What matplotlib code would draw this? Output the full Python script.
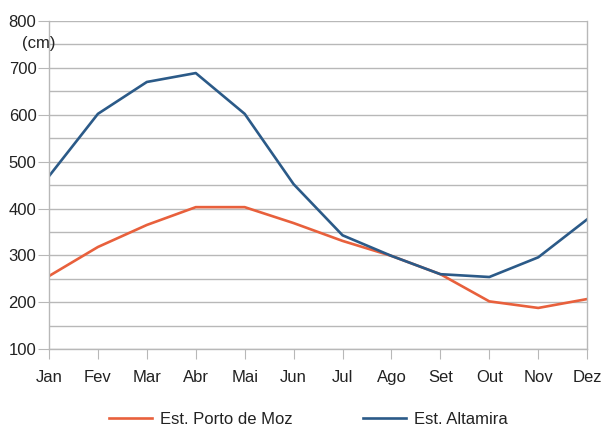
import matplotlib

matplotlib.use("Agg")
import matplotlib.pyplot as plt
from matplotlib.ticker import MultipleLocator

plt.rcParams["font.family"] = ["Liberation Sans Narrow", "Liberation Sans", "DejaVu Sans"]

months = ["Jan", "Fev", "Mar", "Abr", "Mai", "Jun",
          "Jul", "Ago", "Set", "Out", "Nov", "Dez"]
porto_de_moz = [256, 318, 365, 403, 403, 369, 331, 299, 260, 202, 188, 207]
altamira = [469, 602, 670, 689, 602, 452, 343, 299, 260, 254, 296, 377]

grid_color = "#b8b8b8"
text_color = "#222222"
font_size = 12

figure = plt.figure(figsize=(6.01, 4.29), dpi=100)
axis = figure.add_axes([0.0815, 0.186, 0.8955, 0.765])

x = range(len(months))
axis.plot(x, porto_de_moz, color="#e8603c", linewidth=1.9, label="Est. Porto de Moz")
axis.plot(x, altamira, color="#2b5a88", linewidth=1.9, label="Est. Altamira")

axis.set_xlim(0, len(months) - 1)
axis.set_ylim(100, 800)
axis.set_xticks(list(x), labels=months)
axis.yaxis.set_major_locator(MultipleLocator(100))
axis.yaxis.set_minor_locator(MultipleLocator(50))
axis.grid(axis="y", which="both", color=grid_color, linewidth=1.0)
axis.set_axisbelow(True)

for side in ["left", "right", "bottom"]:
    axis.spines[side].set_color(grid_color)
    axis.spines[side].set_linewidth(1.0)
axis.spines["top"].set_visible(False)

axis.tick_params(axis="x", which="major", direction="out", length=7,
                 color=grid_color, labelsize=font_size, labelcolor=text_color, pad=8)
axis.tick_params(axis="y", which="major", direction="out", length=8,
                 color=grid_color, labelsize=font_size, labelcolor=text_color, pad=1)
axis.tick_params(axis="y", which="minor", length=0)

axis.text(-0.050, 0.933, "(cm)", transform=axis.transAxes, ha="left",
          va="center", fontsize=font_size, color=text_color)

axis.legend(loc="center", bbox_to_anchor=(0.482, -0.215), ncol=2,
            frameon=False, fontsize=font_size, handlelength=2.6,
            handletextpad=0.5, columnspacing=4.2, labelcolor=text_color)

figure.savefig("out.png", dpi=100)
